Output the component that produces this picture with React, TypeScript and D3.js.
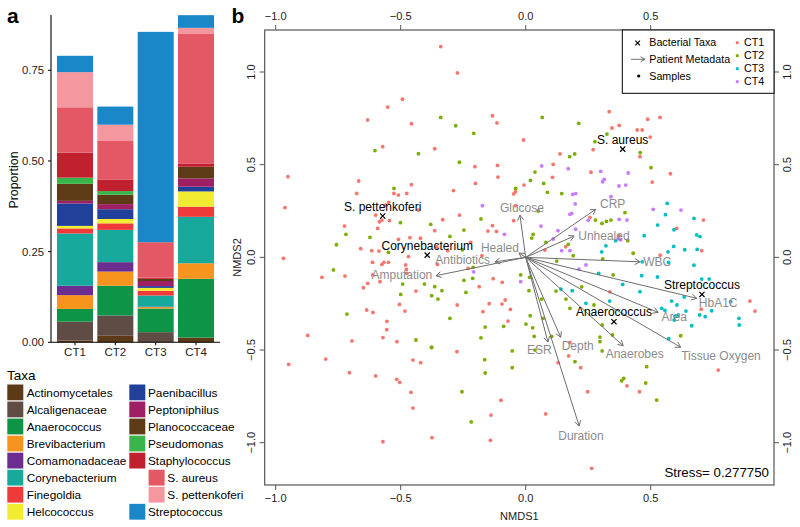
import React from 'react';
import * as d3 from 'd3';

// ---------- Panel a data ----------
const categories = ['CT1', 'CT2', 'CT3', 'CT4'];
const taxa = [
  'Actinomycetales', 'Alcaligenaceae', 'Anaerococcus', 'Brevibacterium',
  'Comamonadaceae', 'Corynebacterium', 'Finegoldia', 'Helcococcus',
  'Paenibacillus', 'Peptoniphilus', 'Planococcaceae', 'Pseudomonas',
  'Staphylococcus', 'S. aureus', 'S. pettenkoferi', 'Streptococcus',
];
const taxaColors = [
  '#5c3a18', '#5f4c44', '#0e9447', '#f7941e',
  '#6b2d90', '#17a99b', '#ee3a39', '#f1eb31',
  '#21409a', '#9e1f64', '#5d3b16', '#3ab54a',
  '#c1202f', '#e45764', '#f4979e', '#1a87c9',
];
const ct1Values = [0.005, 0.052, 0.035, 0.038, 0.026, 0.144, 0.014, 0.007, 0.062, 0.007, 0.047, 0.017, 0.069, 0.125, 0.097, 0.045];
const ct2Values = [0.018, 0.056, 0.082, 0.039, 0.026, 0.089, 0.018, 0.012, 0.027, 0.014, 0.026, 0.010, 0.031, 0.107, 0.045, 0.050];
const ct3Values = [0.0, 0.028, 0.065, 0.004, 0.001, 0.031, 0.013, 0.008, 0.005, 0.014, 0.006, 0.0, 0.003, 0.098, 0.0, 0.580];
const ct4Values = [0.013, 0.0, 0.162, 0.043, 0.0, 0.128, 0.028, 0.042, 0.013, 0.023, 0.032, 0.0, 0.008, 0.358, 0.017, 0.035];
const proportionTicks = [0, 0.25, 0.5, 0.75];
const legendCol1 = ['Actinomycetales', 'Alcaligenaceae', 'Anaerococcus', 'Brevibacterium', 'Comamonadaceae', 'Corynebacterium', 'Finegoldia', 'Helcococcus'];
const legendCol2 = ['Paenibacillus', 'Peptoniphilus', 'Planococcaceae', 'Pseudomonas', 'Staphylococcus', 'S. aureus', 'S. pettenkoferi', 'Streptococcus'];
const legendIndented = ['S. aureus', 'S. pettenkoferi'];

// ---------- Panel b data ----------
const nmdsTicks = [-1, -0.5, 0, 0.5];
const nmdsYTicks = [-1, -0.5, 0, 0.5, 1];
const groupNames = ['CT1', 'CT2', 'CT3', 'CT4'];
const groupColors = ['#F8766D', '#7CAE00', '#00BFC4', '#C77CFF'];

const ct1Points = [
  [-0.34, 1.137], [-0.273, 0.995], [-0.493, 0.853], [-0.552, 0.811], [-0.632, 0.741], [-0.457, 0.721], [-0.133, 0.764], [-0.115, 0.725],
  [-0.009, 0.633], [-0.572, 0.597], [-0.364, 0.586], [-0.951, 0.435], [-0.963, 0.268], [-0.668, 0.412], [-0.676, 0.345], [-0.457, 0.392],
  [-0.527, 0.345], [-0.509, 0.336], [-0.476, 0.345], [-0.289, 0.36], [-0.203, 0.489], [-0.113, 0.496], [-0.111, 0.433], [-0.201, 0.399],
  [-0.048, 0.342], [-0.041, 0.354], [-0.007, 0.39], [-0.548, 0.297], [-0.561, 0.282], [-0.6, 0.228], [-0.585, 0.192], [-0.575, 0.201],
  [-0.545, 0.198], [-0.592, 0.156], [-0.429, 0.255], [-0.332, 0.203], [-0.265, 0.228], [-0.725, 0.169], [-0.66, 0.047], [-0.616, 0.036],
  [-0.587, 0.034], [-0.509, 0.097], [-0.463, 0.106], [-0.421, 0.103], [-0.364, 0.144], [-0.151, 0.142], [-0.117, 0.14], [-0.133, 0.171],
  [-0.048, 0.198], [-0.04, 0.279], [-0.22, 0.081], [-0.175, 0.009], [-0.969, -0.005], [-0.312, 0.036], [-0.356, 0.057],
  [-0.613, -0.027], [-0.575, -0.038], [-0.567, -0.027], [-0.549, -0.027], [-0.48, -0.041], [-0.477, -0.065], [-0.476, -0.086], [-0.469, 0.004],
  [-0.353, -0.038], [-0.815, -0.108], [-0.723, -0.101], [-0.612, -0.095], [-0.583, -0.131], [-0.632, -0.14], [-0.649, -0.164], [-0.439, -0.182],
  [-0.636, -0.284], [-0.611, -0.297], [-0.505, -0.254], [-0.483, -0.29], [-0.555, -0.345], [-0.556, -0.39], [-0.571, -0.433], [-0.515, -0.455],
  [-0.695, -0.451], [-0.872, -0.421], [-0.8, -0.549], [-0.948, -0.577], [-0.451, -0.554], [-0.42, -0.568], [-0.705, -0.622], [-0.6, -0.64],
  [-0.516, -0.658], [-0.504, -0.674], [-0.459, -0.728], [-0.451, -0.813], [-0.571, -0.995], [-0.375, -0.973], [-0.141, -0.987],
  [-0.23, -0.059], [-0.13, -0.115], [-0.094, -0.135], [-0.186, -0.158], [-0.274, -0.257], [-0.146, -0.25], [-0.095, -0.252], [-0.082, -0.23],
  [-0.061, -0.281], [-0.171, -0.293], [-0.071, -0.344], [-0.275, -0.509], [-0.099, -0.771], [-0.139, -0.851],
  [0.334, 0.786], [0.488, 0.745], [0.537, 0.755], [0.374, 0.712], [0.345, 0.698], [0.446, 0.687], [0.466, 0.687], [0.498, 0.649],
  [0.457, 0.543], [0.27, 0.581], [0.137, 0.558], [0.11, 0.502], [0.107, 0.432], [0.261, 0.459], [0.579, 0.451], [0.506, 0.406],
  [0.257, 0.215], [0.604, 0.156], [0.711, 0.201], [0.374, 0.116], [0.704, 0.036], [0.16, 0.057], [0.077, 0.039], [0.538, 0.012],
  [0.337, -0.186], [0.177, -0.459], [0.172, -0.532], [0.13, -0.568], [0.22, -0.595], [0.248, -0.725], [0.08, -0.845], [0.405, -0.693],
  [0.702, -0.28], [0.897, -0.236], [0.917, -0.29], [0.77, -0.608], [0.455, -0.725], [0.264, -1.138],
];
const ct2Points = [
  [-0.34, 0.755], [-0.28, 0.71], [-0.208, 0.669], [-0.603, 0.576], [-0.429, 0.559], [-0.265, 0.513], [-0.527, 0.372], [-0.04, 0.372],
  [-0.38, 0.178], [-0.501, 0.187], [-0.719, 0.124], [-0.623, 0.108], [-0.757, 0.068], [-0.303, 0.113], [-0.247, 0.147], [-0.179, 0.207],
  [-0.253, 0.041], [-0.549, 0.027],
  [-0.769, -0.068], [-0.492, -0.144], [-0.5, -0.2], [-0.405, -0.144], [-0.715, -0.306], [-0.439, -0.446], [-0.377, -0.487],
  [-0.21, -0.054], [-0.247, -0.124], [-0.212, -0.113], [-0.364, -0.158], [-0.335, -0.18], [-0.239, -0.189], [-0.376, -0.207], [-0.351, -0.225],
  [-0.02, -0.095], [0.013, -0.18], [-0.303, -0.329], [-0.162, -0.376], [-0.088, -0.372], [0.001, -0.36], [-0.179, -0.434], [-0.376, -0.485],
  [-0.054, -0.505], [-0.164, -0.552], [-0.054, -0.595], [-0.162, -0.624], [-0.255, -0.725], [-0.218, -0.888],
  [0.066, 0.755], [0.212, 0.723], [0.325, 0.665], [0.277, 0.624], [0.196, 0.558], [0.176, 0.543], [0.458, 0.565], [0.501, 0.484],
  [0.037, 0.46], [0.019, 0.415], [0.072, 0.399], [0.087, 0.351], [0.144, 0.344], [0.05, 0.25], [0.397, 0.241], [0.279, 0.201],
  [0.323, 0.194], [0.341, 0.201], [0.305, 0.183], [0.03, 0.124], [0.024, 0.104], [0.081, 0.081], [0.17, 0.07], [0.43, 0.022], [0.408, 0.09],
  [0.124, -0.02], [0.19, 0.009], [0.308, -0.009], [0.35, -0.095], [0.016, -0.108], [0.121, -0.182], [0.224, -0.159], [0.064, -0.225],
  [0.161, -0.225], [0.177, -0.275], [0.273, -0.257], [0.018, -0.315], [0.07, -0.329], [0.028, -0.38], [0.306, -0.365], [0.034, -0.426],
  [0.104, -0.426], [0.297, -0.43], [0.297, -0.455], [0.347, -0.419], [0.306, -0.505], [0.037, -0.5], [0.197, -0.563], [0.384, -0.666],
  [0.392, -0.653], [0.62, -0.423], [0.484, -0.59], [0.48, -0.678], [0.524, -0.77],
];
const ct3Points = [
  [0.566, 0.291], [0.559, 0.23], [0.528, 0.174], [0.593, 0.149], [0.673, 0.21], [0.684, 0.121], [0.697, 0.112], [0.474, 0.117],
  [0.36, 0.09], [0.321, 0.062], [0.304, 0.03], [0.592, 0.059], [0.636, 0.041], [0.686, 0.043], [0.569, 0.03],
  [0.466, -0.024], [0.571, -0.027], [0.673, -0.042], [0.464, -0.099], [0.527, -0.106], [0.704, -0.117], [0.734, -0.117], [0.457, -0.185],
  [0.584, -0.236], [0.605, -0.257], [0.634, -0.214], [0.544, -0.275], [0.557, -0.286], [0.641, -0.29], [0.597, -0.317], [0.61, -0.311],
  [0.594, -0.338], [0.664, -0.369], [0.572, -0.439], [0.696, -0.311], [0.718, -0.32], [0.744, -0.288], [0.82, -0.239], [0.853, -0.329],
  [0.854, -0.365], [0.292, -0.086], [0.388, -0.146], [0.141, -0.171], [0.186, -0.18], [0.241, -0.248], [0.336, -0.236],
];
const ct4Points = [
  [-0.173, 0.279], [-0.085, 0.124], [-0.208, -0.078], [-0.02, -0.131],
  [0.064, 0.493], [0.17, 0.478], [0.3, 0.464], [0.41, 0.455], [0.314, 0.421], [0.308, 0.408], [0.373, 0.385], [0.4, 0.39],
  [0.188, 0.34], [0.2, 0.344], [0.341, 0.327], [0.198, 0.288], [0.177, 0.232], [0.184, 0.237], [0.25, 0.2], [0.061, 0.169],
  [0.129, 0.144], [0.2, 0.152], [0.374, 0.205], [0.405, 0.201], [0.51, 0.259], [0.621, 0.255], [0.37, 0.1], [0.38, 0.095],
  [0.11, 0.099], [0.144, 0.036], [0.177, 0.036], [0.213, -0.063], [0.241, -0.041],
];
const groupPoints = [ct1Points, ct2Points, ct3Points, ct4Points];

const metaNames = ['Glucose', 'CRP', 'Unhealed', 'WBC', 'HbA1C', 'Area', 'Tissue Oxygen', 'Anaerobes', 'Depth', 'ESR', 'Duration', 'Antibiotics', 'Amputation', 'Healed'];
const metaX = [-0.023, 0.28, 0.194, 0.457, 0.684, 0.53, 0.62, 0.39, 0.14, 0.089, 0.214, -0.123, -0.359, -0.027];
const metaY = [0.228, 0.259, 0.115, -0.024, -0.221, -0.297, -0.485, -0.477, -0.431, -0.457, -0.91, -0.024, -0.099, 0.023];
const metaLabelX = [-0.015, 0.348, 0.313, 0.526, 0.77, 0.594, 0.781, 0.436, 0.208, 0.055, 0.221, -0.252, -0.495, -0.103];
const metaLabelY = [0.266, 0.291, 0.115, -0.025, -0.245, -0.32, -0.532, -0.518, -0.477, -0.5, -0.962, -0.015, -0.095, 0.049];

const taxaNames = ['S. pettenkoferi', 'Corynebacterium', 'S. aureus', 'Streptococcus', 'Anaerococcus'];
const taxaX = [-0.572, -0.394, 0.388, 0.705, 0.353];
const taxaY = [0.223, 0.012, 0.584, -0.2, -0.347];
const stressValue = '0.277750';

const FONT = '"Liberation Sans", Arial, Helvetica, sans-serif';

function arrowHead(x1: number, y1: number, x2: number, y2: number, len = 6) {
  const a = Math.atan2(y2 - y1, x2 - x1);
  const p1 = [x2 - len * Math.cos(a - Math.PI / 6), y2 - len * Math.sin(a - Math.PI / 6)];
  const p2 = [x2 - len * Math.cos(a + Math.PI / 6), y2 - len * Math.sin(a + Math.PI / 6)];
  return `M${p1[0]},${p1[1]}L${x2},${y2}L${p2[0]},${p2[1]}`;
}

function Cross({ x, y, s = 2.6, color = '#000' }: { x: number; y: number; s?: number; color?: string }) {
  return (
    <path d={`M${x - s},${y - s}L${x + s},${y + s}M${x - s},${y + s}L${x + s},${y - s}`} stroke={color} strokeWidth={1.2} />
  );
}

function PanelA() {
  const valuesByCat = [ct1Values, ct2Values, ct3Values, ct4Values];
  const rows = categories.map((c, i) => {
    const r: any = { cat: c };
    taxa.forEach((t, j) => (r[t] = valuesByCat[i][j]));
    return r;
  });
  const series = d3.stack().keys(taxa)(rows);
  const x = d3.scaleBand().domain(categories).range([51, 220]).paddingInner(0.107).paddingOuter(0.148);
  const y = d3.scaleLinear().domain([0, 0.75]).range([342.3, 70.3]);
  const color = d3.scaleOrdinal<string, string>().domain(taxa).range(taxaColors);

  return (
    <g>
      {series.map((s) =>
        s.map((d, i) => (
          <rect key={s.key + i} x={x(categories[i])} width={x.bandwidth()} y={y(d[1])} height={Math.max(0, y(d[0]) - y(d[1]))} fill={color(s.key)} />
        ))
      )}
      <line x1={51} x2={51} y1={15} y2={y(0)} stroke="#000" strokeWidth={1.1} />
      <line x1={51} x2={220} y1={y(0)} y2={y(0)} stroke="#000" strokeWidth={1.1} />
      {proportionTicks.map((t) => (
        <g key={t}>
          <line x1={48} x2={51} y1={y(t)} y2={y(t)} stroke="#000" />
          <text x={44} y={y(t)} dy="0.35em" textAnchor="end" fontSize={11.3} fill="#222">{t.toFixed(2)}</text>
        </g>
      ))}
      {categories.map((c) => (
        <g key={c}>
          <line x1={x(c)! + x.bandwidth() / 2} x2={x(c)! + x.bandwidth() / 2} y1={y(0)} y2={y(0) + 3} stroke="#000" />
          <text x={x(c)! + x.bandwidth() / 2} y={352} dy="0.35em" textAnchor="middle" fontSize={11.5} fill="#222">{c}</text>
        </g>
      ))}
      <text transform={`translate(14,180) rotate(-90)`} textAnchor="middle" dy="0.35em" fontSize={12.4} fill="#000">Proportion</text>
      <text x={7} y={23} fontSize={21} fontWeight="bold">a</text>
      {/* Legend */}
      <text x={7} y={375} dy="0.35em" fontSize={13.5}>Taxa</text>
      {legendCol1.map((t, i) => (
        <g key={t}>
          <rect x={7.3} y={384.5 + i * 17.05} width={16} height={15.8} fill={color(t)} />
          <text x={26.7} y={392.4 + i * 17.05} dy="0.35em" fontSize={11.8}>{t}</text>
        </g>
      ))}
      {legendCol2.map((t, i) => {
        const ind = legendIndented.includes(t) ? 19.3 : 0;
        return (
          <g key={t}>
            <rect x={129.3 + ind} y={384.5 + i * 17.05} width={16} height={15.8} fill={color(t)} />
            <text x={148 + ind} y={392.4 + i * 17.05} dy="0.35em" fontSize={11.8}>{t}</text>
          </g>
        );
      })}
    </g>
  );
}

function PanelB() {
  const x = d3.scaleLinear().domain([-1, 0.5]).range([275.7, 650.7]);
  const y = d3.scaleLinear().domain([-1, 1]).range([442.7, 72]);
  const L = 264.7, R = 774, T = 30, B = 485;
  const ox = x(0), oy = y(0);
  const axisColor = '#555';
  const metaColor = '#8c8c8c';

  return (
    <g>
      <text x={231.5} y={23} fontSize={21} fontWeight="bold">b</text>
      {groupPoints.map((pts, g) =>
        pts.map((p, i) => <circle key={g + '-' + i} cx={x(p[0])} cy={y(p[1])} r={1.9} fill={groupColors[g]} />)
      )}
      {metaNames.map((m, i) => {
        const ex = x(metaX[i]), ey = y(metaY[i]);
        return (
          <g key={m}>
            <line x1={ox} y1={oy} x2={ex} y2={ey} stroke="#6e6e6e" strokeWidth={1} />
            <path d={arrowHead(ox, oy, ex, ey)} fill="none" stroke="#6e6e6e" strokeWidth={1} />
          </g>
        );
      })}
      {metaNames.map((m, i) => (
        <text key={m} x={x(metaLabelX[i])} y={y(metaLabelY[i])} dy="0.35em" textAnchor="middle" fontSize={12} fill={metaColor}>{m}</text>
      ))}
      {taxaNames.map((t, i) => (
        <g key={t}>
          <Cross x={x(taxaX[i])} y={y(taxaY[i])} />
          <text x={x(taxaX[i])} y={y(taxaY[i]) - 9.5} dy="0.35em" textAnchor="middle" fontSize={12} fill="#000">{t}</text>
        </g>
      ))}
      <rect x={L} y={T} width={R - L} height={B - T} fill="none" stroke={axisColor} strokeWidth={1.2} />
      {nmdsTicks.map((t) => (
        <g key={'x' + t}>
          <line x1={x(t)} x2={x(t)} y1={B} y2={B + 5} stroke={axisColor} />
          <text x={x(t)} y={498} dy="0.35em" textAnchor="middle" fontSize={11} fill="#222">{t === 0 ? '0.0' : d3.format('.1f')(t).replace('-', '−')}</text>
          <line x1={x(t)} x2={x(t)} y1={T} y2={T - 5} stroke={axisColor} />
          <text x={x(t)} y={16} dy="0.35em" textAnchor="middle" fontSize={11} fill="#222">{t === 0 ? '0.0' : d3.format('.1f')(t).replace('-', '−')}</text>
        </g>
      ))}
      {nmdsYTicks.map((t) => (
        <g key={'y' + t}>
          <line x1={L} x2={L - 5} y1={y(t)} y2={y(t)} stroke={axisColor} />
          <text transform={`translate(250.7,${y(t)}) rotate(-90)`} dy="0.35em" textAnchor="middle" fontSize={11} fill="#222">{t === 0 ? '0.0' : d3.format('.1f')(t).replace('-', '−')}</text>
          <line x1={R} x2={R + 5} y1={y(t)} y2={y(t)} stroke={axisColor} />
          <text transform={`translate(787,${y(t)}) rotate(-90)`} dy="0.35em" textAnchor="middle" fontSize={11} fill="#222">{t === 0 ? '0.0' : d3.format('.1f')(t).replace('-', '−')}</text>
        </g>
      ))}
      <text x={(L + R) / 2} y={516.5} dy="0.35em" textAnchor="middle" fontSize={11} fill="#222">NMDS1</text>
      <text transform={`translate(237,${(T + B) / 2}) rotate(-90)`} dy="0.35em" textAnchor="middle" fontSize={11} fill="#222">NMDS2</text>
      <text x={769} y={472} dy="0.35em" textAnchor="end" fontSize={13.3} fill="#000">Stress= {stressValue}</text>
      {/* legend */}
      <rect x={622.3} y={T} width={R - 622.3} height={63.3} fill="#fff" stroke="#000" strokeWidth={1} />
      <Cross x={637.7} y={43} s={2.3} />
      <text x={649.3} y={42.7} dy="0.35em" fontSize={10.7}>Bacterial Taxa</text>
      <line x1={631} y1={59.3} x2={645} y2={59.3} stroke="#6e6e6e" />
      <path d={arrowHead(631, 59.3, 645, 59.3, 5)} fill="none" stroke="#6e6e6e" />
      <text x={649.3} y={59.3} dy="0.35em" fontSize={10.7}>Patient Metadata</text>
      <circle cx={638.7} cy={76} r={1.6} fill="#000" />
      <text x={649.3} y={76} dy="0.35em" fontSize={10.7}>Samples</text>
      {groupNames.map((g, i) => (
        <g key={g}>
          <circle cx={737.3} cy={42.7 + i * 13} r={1.6} fill={groupColors[i]} />
          <text x={744} y={42.7 + i * 13} dy="0.35em" fontSize={10.7}>{g}</text>
        </g>
      ))}
    </g>
  );
}

export default function App() {
  return (
    <div style={{ position: 'absolute', left: 0, top: 0 }}>
      <svg width={800} height={527} style={{ display: 'block', fontFamily: FONT, background: '#fff' }}>
        <rect width={800} height={527} fill="#fff" />
        <PanelA />
        <PanelB />
      </svg>
    </div>
  );
}
